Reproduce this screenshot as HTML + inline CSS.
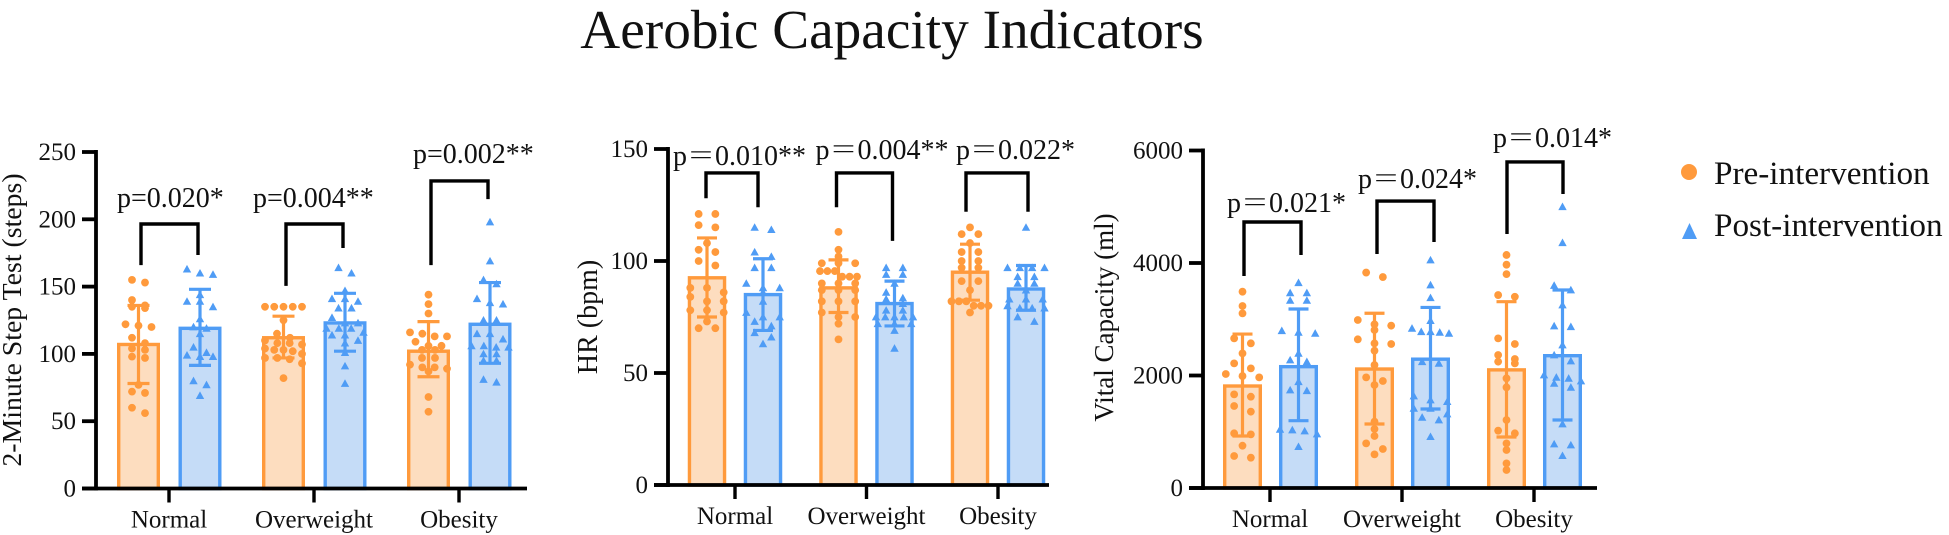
<!DOCTYPE html>
<html lang="en">
<head>
<meta charset="utf-8">
<title>Aerobic Capacity Indicators</title>
<style>
html,body{margin:0;padding:0;background:#fff;}
svg{display:block;font-family:"Liberation Serif","Noto Serif CJK SC",serif;}
</style>
</head>
<body>
<svg id="figure" xmlns="http://www.w3.org/2000/svg" width="1949" height="535" viewBox="0 0 1949 535">
  <rect x="0" y="0" width="1949" height="535" fill="#fff"/>
  <text x="892" y="48" font-size="55.3" text-anchor="middle" fill="#111">Aerobic Capacity Indicators</text>
  <g>
    <g>
      <circle cx="1689" cy="172" r="8" fill="#FF9A3C"/>
      <text x="1714" y="184" font-size="33.2" fill="#111">Pre-intervention</text>
    </g>
    <g>
      <polygon points="1689.5,223 1697,239 1682,239" fill="#4F9CF5"/>
      <text x="1714" y="236" font-size="33.2" fill="#111">Post-intervention</text>
    </g>
  </g>
</svg>
<script>
const categories = ['Normal', 'Overweight', 'Obesity'];

const stepTicks = [0, 50, 100, 150, 200, 250];
const stepMeans = [107, 119, 112, 123, 102, 122];
const stepUpper = [136, 148, 128, 145, 124, 153];
const stepLower = [78, 91.5, 97, 102, 83, 93];
const stepPoints = [
  [155,153,140,136,135,134,122,121,120,112,108,104,103,98,97,77,72,71,60,56],
  [163,160,159,144,139,139,135,126,120,119,115,105,101,99,98,98,80,77,69],
  [135,135,135,135,135,125,115,112,110,108,108,107,104,103,103,102,100,97,97,96,93,82],
  [164,160,147,141,141,139,134,134,127,123,123,119,119,119,116,114,114,110,108,101,91,78],
  [144,137,130,116,115,113,113,109,106,106,103,103,97,97,92,90,90,89,87,68,57],
  [198,169,155,152,141,138,137,125,125,115,115,111,106,106,105,105,100,100,95,95,81,79]
];

const hrTicks = [0, 50, 100, 150];
const hrMeans = [92.5, 85, 88, 81, 95, 87.5];
const hrUpper = [110.3, 101, 100.5, 91, 107.5, 98];
const hrLower = [75, 69, 77, 71, 82.5, 78];
const hrPoints = [
  [121,121,116,115,108,105,104,100,98,88,88,86,84,82,82,78,78,77,73,70,70],
  [115,114,104,102,97,97,90,88,88,86,82,77,75,75,73,71,68,66,63],
  [113,105,102,99,99,99,95.5,95.5,95.5,93,93,93,90,90,90,87,87,87,82,82,82,77,75,75,72,65],
  [97,97,94,94,90,86,83.5,83,81,78,78,75,75,75,75,75,72,72,72,69,61],
  [115,112,112,108,104,104,100,100,97,97,91,91,87,82,82,82,80,80,80,77],
  [115,97,97,97,97,93,93,90,90,87,83,83,83,80,79,79,79,75,73]
];

const vitalTicks = [0, 2000, 4000, 6000];
const vitalMeans = [1813, 2157, 2115, 2290, 2100, 2352];
const vitalUpper = [2737, 3182, 3107, 3210, 3312, 3520];
const vitalLower = [924, 1197, 1138, 1405, 907, 1209];
const vitalPoints = [
  [3490,3235,3105,2660,2572,2394,2216,2127,2027,1990,1967,1665,1623,1458,1357,972,954,752,569,539],
  [3650,3470,3470,3335,3335,2797,2767,2750,2394,2275,2246,1890,1742,1730,1043,1031,1013,960,735],
  [3830,3750,2987,2910,2886,2809,2643,2572,2560,2441,2187,1967,1902,1831,1179,1049,924,794,693,598],
  [4053,3609,3382,2975,2838,2779,2779,2767,2750,2246,2216,1635,1564,1535,1416,1416,1315,1256,1209,913],
  [4143,3970,3802,3430,3400,2660,2560,2364,2293,2246,2216,1950,1790,1209,1019,972,794,675,438,320],
  [5000,4360,3600,3520,3253,2880,2868,2542,2364,2258,2009,1967,1950,1902,1860,1790,1138,782,764,575]
];

const SVG_NS = 'http://www.w3.org/2000/svg';
const ORANGE = '#FF9A3C';
const ORANGE_FILL = '#FDDDBF';
const BLUE = '#4F9CF5';
const BLUE_FILL = '#C5DCF7';
const figure = document.getElementById('figure');

function make(tag, parent) {
  const el = document.createElementNS(SVG_NS, tag);
  parent.appendChild(el);
  return el;
}

function line(parent, x1, y1, x2, y2, color, width) {
  const el = make('line', parent);
  el.setAttribute('x1', x1);
  el.setAttribute('y1', y1);
  el.setAttribute('x2', x2);
  el.setAttribute('y2', y2);
  el.setAttribute('stroke', color);
  el.setAttribute('stroke-width', width);
  return el;
}

function label(parent, x, y, size, anchor, content) {
  const el = make('text', parent);
  el.setAttribute('x', x);
  el.setAttribute('y', y);
  el.setAttribute('font-size', size);
  el.setAttribute('text-anchor', anchor);
  el.setAttribute('fill', '#111');
  el.textContent = content;
  return el;
}

function swarmRows(values, yScale, spacing) {
  const sorted = values.slice().sort(function (a, b) { return b - a; });
  const rows = [];
  sorted.forEach(function (v) {
    const y = yScale(v);
    const row = rows[rows.length - 1];
    if (row && y - yScale(row[0]) < 6.5) {
      row.push(v);
    } else {
      rows.push([v]);
    }
  });
  const placed = [];
  rows.forEach(function (row) {
    const n = row.length;
    const step = n > 1 ? Math.min(spacing, 37 / (n - 1)) : 0;
    row.forEach(function (v, i) {
      placed.push({ value: v, dx: (i - (n - 1) / 2) * step });
    });
  });
  return placed;
}

function drawPanel(cfg) {
  const group = make('g', figure);
  
  
  const yScale = function (v) { return cfg.baseY - v * cfg.pxPerUnit; };
  const topValue = cfg.ticks[cfg.ticks.length - 1];

  cfg.means.forEach(function (mean, i) {
    const isPre = i % 2 === 0;
    const g = Math.floor(i / 2);
    const cx = cfg.firstTick + g * cfg.tickStep + (isPre ? cfg.preOffset : cfg.postOffset);
    const stroke = isPre ? ORANGE : BLUE;
    const fill = isPre ? ORANGE_FILL : BLUE_FILL;
    const barEl = make('rect', group);
    
    
    barEl.setAttribute('x', cx - cfg.barWidth / 2 + 1.7);
    barEl.setAttribute('y', yScale(mean));
    barEl.setAttribute('width', cfg.barWidth - 3.4);
    barEl.setAttribute('height', cfg.baseY - yScale(mean));
    barEl.setAttribute('fill', fill);
    barEl.setAttribute('stroke', stroke);
    barEl.setAttribute('stroke-width', 3.4);

    swarmRows(cfg.points[i], yScale, cfg.spacing).forEach(function (p) {
      const px = cx + p.dx;
      const py = yScale(p.value);
      if (isPre) {
        const dot = make('circle', group);
        
        
        dot.setAttribute('cx', px);
        dot.setAttribute('cy', py);
        dot.setAttribute('r', 3.9);
        dot.setAttribute('fill', ORANGE);
      } else {
        const tri = make('polygon', group);
        
        
        tri.setAttribute('points', px + ',' + (py - 4.2) + ' ' + (px + 4.2) + ',' + (py + 3.4) + ' ' + (px - 4.2) + ',' + (py + 3.4));
        tri.setAttribute('fill', BLUE);
      }
    });

    const stem = line(group, cx, yScale(cfg.upper[i]), cx, yScale(cfg.lower[i]), stroke, 3.2);
    
    
    const capHigh = line(group, cx - cfg.cap, yScale(cfg.upper[i]), cx + cfg.cap, yScale(cfg.upper[i]), stroke, 3.2);
    
    
    const capLow = line(group, cx - cfg.cap, yScale(cfg.lower[i]), cx + cfg.cap, yScale(cfg.lower[i]), stroke, 3.2);
    
    
  });

  const yAxis = line(group, cfg.axisX, yScale(topValue) - 2, cfg.axisX, cfg.baseY + 2, '#000', 3.8);
  
  
  const xAxis = line(group, cfg.axisX - 14, cfg.baseY, cfg.axisEnd, cfg.baseY, '#000', 3.8);
  
  

  cfg.ticks.forEach(function (t) {
    const tick = line(group, cfg.axisX - 14, yScale(t), cfg.axisX, yScale(t), '#000', 3.8);
    
    
    const tickText = label(group, cfg.axisX - 20, yScale(t) + 8, cfg.tickFont, 'end', String(t));
    
    
  });

  categories.forEach(function (c, g) {
    const x = cfg.firstTick + g * cfg.tickStep;
    const tick = line(group, x, cfg.baseY, x, cfg.baseY + 14, '#000', 3.4);
    
    
    const catText = label(group, x, cfg.baseY + 39, 25, 'middle', c);
    
    
  });

  const title = label(group, 0, 0, cfg.titleFont, 'middle', cfg.title);
  
  
  title.setAttribute('transform', 'translate(' + cfg.titleX + ',' + cfg.titleY + ') rotate(-90)');

  return function annotate(g, dl, dr, topV, leftV, rightV, textV, textDx, text) {
    const tick = cfg.firstTick + g * cfg.tickStep;
    const xl = tick + dl;
    const xr = tick + dr;
    const bracket = make('path', group);
    
    
    bracket.setAttribute('d', 'M' + xl + ' ' + yScale(leftV) + 'V' + yScale(topV) + 'H' + xr + 'V' + yScale(rightV));
    bracket.setAttribute('fill', 'none');
    bracket.setAttribute('stroke', '#000');
    bracket.setAttribute('stroke-width', 3.4);
    const pText = label(group, tick + textDx, yScale(textV), 28, 'start', text);
    
    
  };
}

const annotateStep = drawPanel({
  name: 'step-test-panel', title: '2-Minute Step Test (steps)',
  ticks: stepTicks, means: stepMeans, upper: stepUpper, lower: stepLower, points: stepPoints,
  baseY: 488.5, pxPerUnit: 1.346, axisX: 96, axisEnd: 527,
  firstTick: 169, tickStep: 145, preOffset: -30.5, postOffset: 31,
  barWidth: 43, cap: 11, spacing: 13, tickFont: 25,
  titleX: 21, titleY: 320, titleFont: 27.8
});
annotateStep(0, -28, 29, 196.5, 166, 173.5, 209, -52, 'p=0.020*');
annotateStep(1, -28, 29, 196.5, 150.5, 178.7, 209, -61, 'p=0.004**');
annotateStep(2, -28, 29, 228.5, 166, 215, 241.8, -46, 'p=0.002**');

const annotateHr = drawPanel({
  name: 'heart-rate-panel', title: 'HR (bpm)',
  ticks: hrTicks, means: hrMeans, upper: hrUpper, lower: hrLower, points: hrPoints,
  baseY: 485, pxPerUnit: 2.24, axisX: 668, axisEnd: 1049,
  firstTick: 735, tickStep: 131.5, preOffset: -28, postOffset: 28,
  barWidth: 38.5, cap: 10, spacing: 16.7, tickFont: 25,
  titleX: 597, titleY: 317, titleFont: 28
});
annotateHr(0, -29, 23, 139.3, 128, 124, 142.9, -62, 'p＝0.010**');
annotateHr(1, -30, 26, 139.3, 124, 109, 145.5, -51, 'p＝0.004**');
annotateHr(2, -32, 30, 139.3, 122, 122, 145.5, -42, 'p＝0.022*');

const annotateVital = drawPanel({
  name: 'vital-capacity-panel', title: 'Vital Capacity (ml)',
  ticks: vitalTicks, means: vitalMeans, upper: vitalUpper, lower: vitalLower, points: vitalPoints,
  baseY: 488, pxPerUnit: 0.05625, axisX: 1203, axisEnd: 1597,
  firstTick: 1270, tickStep: 132, preOffset: -27.5, postOffset: 28.5,
  barWidth: 39, cap: 10, spacing: 16.7, tickFont: 25,
  titleX: 1113, titleY: 317.5, titleFont: 27
});
annotateVital(0, -26, 31, 4729, 3769, 4142, 4907, -43, 'p＝0.021*');
annotateVital(1, -25, 32, 5102, 4160, 4373, 5333, -44, 'p＝0.024*');
annotateVital(2, -27, 29, 5796, 4516, 5227, 6062, -41, 'p＝0.014*');
</script>
</body>
</html>
